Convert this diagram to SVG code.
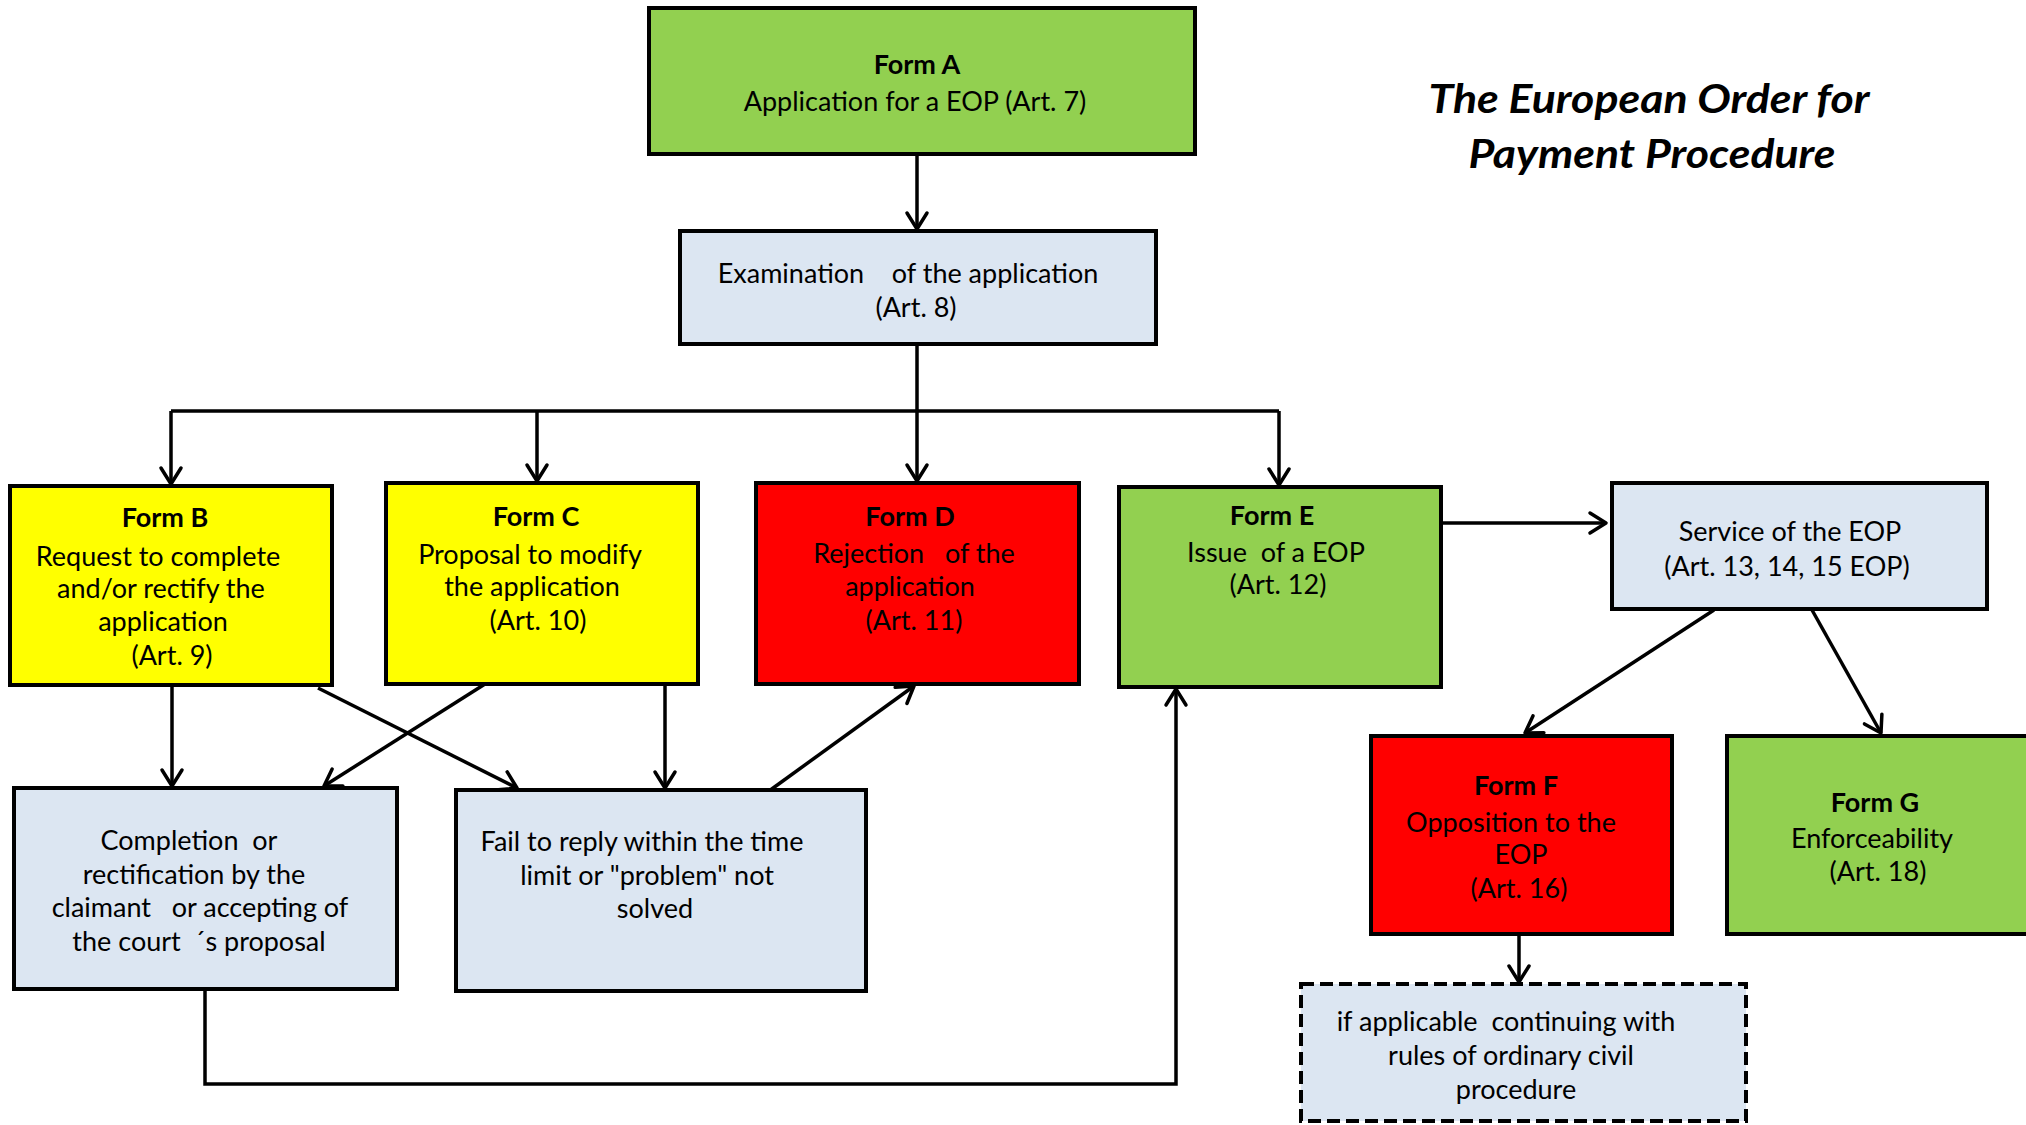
<svg xmlns="http://www.w3.org/2000/svg" width="2026" height="1125" viewBox="0 0 2026 1125">
<style>
.box{stroke:#000;stroke-width:4}
.green{fill:#92D050}.yellow{fill:#FFFF00}.red{fill:#FF0000}.blue{fill:#DCE6F2}
.dash{stroke-dasharray:13 6}
text{font-family:Lato,"Liberation Sans",sans-serif;font-size:27px;fill:#000;text-anchor:middle}
.b{font-weight:bold}
.title{font-size:41px;font-weight:bold;font-style:italic}
.conn path{fill:none;stroke:#000;stroke-width:3.5;marker-end:url(#arr)}
.conn path.plain{marker-end:none}
</style>
<defs>
<marker id="arr" markerUnits="userSpaceOnUse" markerWidth="26" markerHeight="26" viewBox="0 0 26 26" refX="22" refY="13" orient="auto">
<path d="M6,3 L22,13 L6,23" fill="none" stroke="#000" stroke-width="3.5" stroke-linejoin="round" stroke-linecap="round"/>
</marker>
</defs>
<rect width="2026" height="1125" fill="#fff"/>

<g id="title">
<text class="title" x="1649" y="113" textLength="441" lengthAdjust="spacingAndGlyphs">The European Order for</text>
<text class="title" x="1652" y="168" textLength="367" lengthAdjust="spacingAndGlyphs">Payment Procedure</text>
</g>

<g class="conn" id="connectors">
<path d="M917,154 L917,229"/>
<path class="plain" d="M917,344 L917,411 M171,411 L1279,411"/>
<path d="M171,411 L171,484"/>
<path d="M537,411 L537,481"/>
<path d="M917,411 L917,481"/>
<path d="M1279,411 L1279,485"/>
<path d="M172,685 L172,786"/>
<path d="M318,688 L517,788"/>
<path d="M485,684 L324,786"/>
<path d="M665,684 L665,788"/>
<path d="M769,791 L914,686"/>
<path d="M205,989 L205,1084 L1176,1084 L1176,689"/>
<path d="M1441,523 L1606,523"/>
<path d="M1714,610 L1525,733"/>
<path d="M1812,610 L1881,733"/>
<path d="M1519,934 L1519,982"/>
</g>

<g id="formA">
<rect class="box green" x="649" y="8" width="546" height="146"/>
<text class="b" x="917" y="74">Form A</text>
<text x="915" y="111">Application for a EOP (Art. 7)</text>
</g>

<g id="examination">
<rect class="box blue" x="680" y="231" width="476" height="113"/>
<text x="908" y="283" xml:space="preserve">Examination    of the application</text>
<text x="916" y="317">(Art. 8)</text>
</g>

<g id="formB">
<rect class="box yellow" x="10" y="486" width="322" height="199"/>
<text class="b" x="165" y="527">Form B</text>
<text x="158" y="566">Request to complete</text>
<text x="161" y="598">and/or rectify the</text>
<text x="163" y="631">application</text>
<text x="172" y="665">(Art. 9)</text>
</g>

<g id="formC">
<rect class="box yellow" x="386" y="483" width="312" height="201"/>
<text class="b" x="536" y="526">Form C</text>
<text x="530" y="564">Proposal to modify</text>
<text x="532" y="596">the application</text>
<text x="538" y="630">(Art. 10)</text>
</g>

<g id="formD">
<rect class="box red" x="756" y="483" width="323" height="201"/>
<text class="b" x="910" y="526">Form D</text>
<text x="914" y="563" xml:space="preserve">Rejection   of the</text>
<text x="910" y="596">application</text>
<text x="914" y="630">(Art. 11)</text>
</g>

<g id="formE">
<rect class="box green" x="1119" y="487" width="322" height="200"/>
<text class="b" x="1272" y="525">Form E</text>
<text x="1276" y="562" xml:space="preserve">Issue  of a EOP</text>
<text x="1278" y="594">(Art. 12)</text>
</g>

<g id="service">
<rect class="box blue" x="1612" y="483" width="375" height="126"/>
<text x="1790" y="541">Service of the EOP</text>
<text x="1787" y="576">(Art. 13, 14, 15 EOP)</text>
</g>

<g id="formF">
<rect class="box red" x="1371" y="736" width="301" height="198"/>
<text class="b" x="1516" y="795">Form F</text>
<text x="1511" y="832">Opposition to the</text>
<text x="1521" y="864">EOP</text>
<text x="1519" y="898">(Art. 16)</text>
</g>

<g id="formG">
<rect class="box green" x="1727" y="736" width="320" height="198"/>
<text class="b" x="1875" y="812">Form G</text>
<text x="1872" y="848">Enforceability</text>
<text x="1878" y="881">(Art. 18)</text>
</g>

<g id="continuing">
<rect class="box blue dash" x="1301" y="984" width="445" height="137"/>
<text x="1506" y="1031" xml:space="preserve">if applicable  continuing with</text>
<text x="1511" y="1065">rules of ordinary civil</text>
<text x="1516" y="1099">procedure</text>
</g>

<g id="completion">
<rect class="box blue" x="14" y="788" width="383" height="201"/>
<text x="189" y="850" xml:space="preserve">Completion  or</text>
<text x="194" y="884">rectification by the</text>
<text x="200" y="917" xml:space="preserve">claimant   or accepting of</text>
<text x="199" y="951" xml:space="preserve">the court  ´s proposal</text>
</g>

<g id="fail">
<rect class="box blue" x="456" y="790" width="410" height="201"/>
<text x="642" y="851">Fail to reply within the time</text>
<text x="647" y="885">limit or "problem" not</text>
<text x="655" y="918">solved</text>
</g>
</svg>
